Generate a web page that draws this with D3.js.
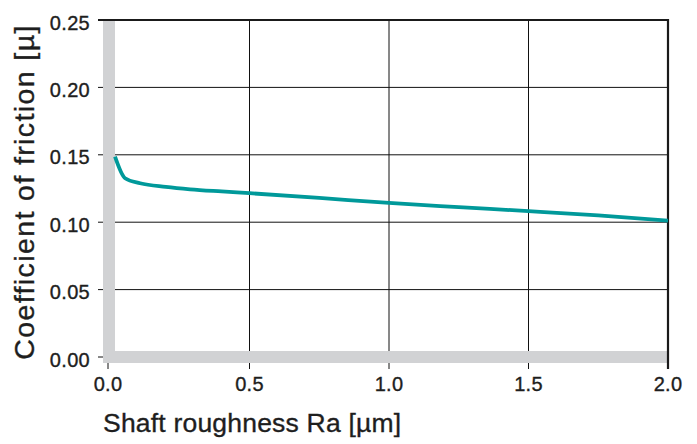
<!DOCTYPE html>
<html lang="en">
<head>
    <meta charset="UTF-8">
    <title>Coefficient of friction vs shaft roughness</title>
    <style>
        body { margin: 0; background: #fff; }
        text { font-family: "Liberation Sans", Arial, sans-serif; fill: #1e1e1e; stroke: #1e1e1e; stroke-width: 0.35px; }
    </style>
</head>
<body>
    <div class="chart"></div>

    <script src="https://d3js.org/d3.v7.min.js"></script>
    <script>
        // data
        var roughness = [0.018, 0.054, 0.108, 0.2, 0.287, 0.4, 0.5, 0.75, 1.0, 1.25, 1.5, 1.75, 2.0]
        var friction  = [0.1486, 0.1326, 0.1289, 0.1262, 0.1244, 0.1228, 0.1215, 0.1180, 0.1143, 0.1112, 0.1082, 0.1050, 0.1012]
        var xTicks = [0, 0.5, 1.0, 1.5, 2.0]
        var yTicks = [0, 0.05, 0.10, 0.15, 0.20, 0.25]

        var width = 697
        var height = 444

        var x = d3.scaleLinear().domain([0, 2]).range([110, 668])
        var y = d3.scaleLinear().domain([0, 0.25]).range([357, 20])

        var svg = d3.select(".chart").append("svg")
            .attr("width", width)
            .attr("height", height)

        // grid
        svg.append("g").selectAll("line")
            .data(yTicks.slice(0, -1))
            .enter().append("line")
            .attr("x1", 98).attr("x2", 668)
            .attr("y1", d => y(d)).attr("y2", d => y(d))
            .attr("stroke", "#111").attr("stroke-width", 1)

        svg.append("g").selectAll("line")
            .data(xTicks.slice(0, -1))
            .enter().append("line")
            .attr("x1", d => d == 0 ? 108 : x(d)).attr("x2", d => d == 0 ? 108 : x(d))
            .attr("y1", d => d == 0 ? 363 : 20).attr("y2", 369)
            .attr("stroke", "#111").attr("stroke-width", 1)

        // gray bands on the axes
        svg.append("rect").attr("x", 103).attr("y", 20).attr("width", 12).attr("height", 343).attr("fill", "#d1d2d4")
        svg.append("rect").attr("x", 103).attr("y", 351).attr("width", 565).attr("height", 12).attr("fill", "#d1d2d4")

        // top and right border
        svg.append("line").attr("x1", 98).attr("x2", 669).attr("y1", y(0.25)).attr("y2", y(0.25))
            .attr("stroke", "#1a1a1a").attr("stroke-width", 2.2)
        svg.append("line").attr("x1", x(2)).attr("x2", x(2)).attr("y1", 19).attr("y2", 369)
            .attr("stroke", "#1a1a1a").attr("stroke-width", 2.2)

        // tick labels
        svg.append("g").selectAll("text")
            .data(yTicks)
            .enter().append("text")
            .attr("x", 90).attr("y", d => y(d) + 9.5)
            .attr("text-anchor", "end")
            .attr("font-size", 20)
            .attr("letter-spacing", 0.3)
            .text(d => d3.format(".2f")(d))

        svg.append("g").selectAll("text")
            .data(xTicks)
            .enter().append("text")
            .attr("x", d => d == 0 ? 108 : x(d)).attr("y", 391)
            .attr("text-anchor", "middle")
            .attr("font-size", 20)
            .attr("letter-spacing", 0.3)
            .text(d => d3.format(".1f")(d))

        // axis titles
        svg.append("text")
            .attr("transform", "translate(34,192) rotate(-90)")
            .attr("text-anchor", "middle")
            .attr("font-size", 28.5)
            .attr("letter-spacing", 1.4)
            .text("Coefficient of friction [µ]")

        svg.append("text")
            .attr("x", 103).attr("y", 432)
            .attr("font-size", 26.5)
            .attr("letter-spacing", 0.2)
            .text("Shaft roughness Ra [µm]")

        // curve
        var line = d3.line()
            .x((d, i) => x(roughness[i]))
            .y(d => y(d))
            .curve(d3.curveMonotoneX)

        svg.append("path")
            .datum(friction)
            .attr("d", line)
            .attr("fill", "none")
            .attr("stroke", "#00999a")
            .attr("stroke-width", 3.8)
    </script>
</body>
</html>
